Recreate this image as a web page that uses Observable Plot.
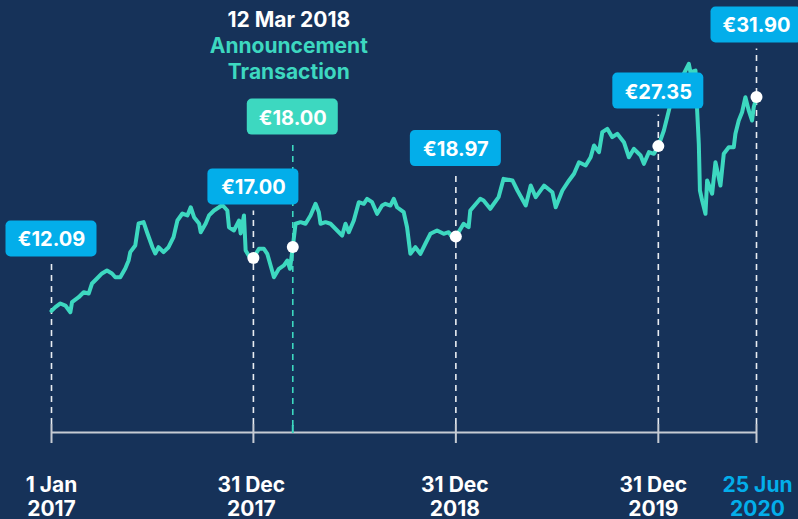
<!DOCTYPE html>
<html><head><meta charset="utf-8">
<script src="https://cdn.jsdelivr.net/npm/d3@7"></script>
<script src="https://cdn.jsdelivr.net/npm/@observablehq/plot@0.6"></script>
<style>
html,body{margin:0;padding:0;background:#163259;overflow:hidden;}
#chart{width:798px;height:519px;}
</style></head><body><div id="chart"></div>
<script>
// ---- data ----
const priceDates = [
"2017-01-01","2017-01-08","2017-01-17","2017-01-26","2017-02-04","2017-02-07","2017-02-19","2017-02-28","2017-03-09","2017-03-15",
"2017-03-24","2017-04-02","2017-04-11","2017-04-20","2017-04-26","2017-05-05","2017-05-14","2017-05-20","2017-05-23","2017-06-01",
"2017-06-07","2017-06-16","2017-06-23","2017-07-02","2017-07-07","2017-07-13","2017-07-22","2017-07-31","2017-08-09","2017-08-16",
"2017-08-25","2017-09-03","2017-09-09","2017-09-15","2017-09-24","2017-09-27","2017-10-06","2017-10-12","2017-10-21","2017-10-30",
"2017-11-05","2017-11-14","2017-11-17","2017-11-26","2017-12-05","2017-12-08","2017-12-14","2017-12-17","2017-12-26","2017-12-31",
"2018-01-10","2018-01-19","2018-01-25","2018-02-06","2018-02-15","2018-02-24","2018-03-02","2018-03-07","2018-03-12","2018-03-17",
"2018-03-26","2018-04-04","2018-04-13","2018-04-22","2018-04-28","2018-05-01","2018-05-10","2018-05-19","2018-05-31","2018-06-09",
"2018-06-15","2018-06-21","2018-06-30","2018-07-09","2018-07-18","2018-07-24","2018-08-02","2018-08-11","2018-08-20","2018-08-26",
"2018-09-04","2018-09-10","2018-09-16","2018-09-28","2018-10-04","2018-10-10","2018-10-19","2018-10-28","2018-11-06","2018-11-15",
"2018-11-27","2018-12-09","2018-12-18","2018-12-24","2018-12-31",
"2019-01-14","2019-01-23","2019-01-26","2019-02-13","2019-02-19","2019-03-03","2019-03-18","2019-03-27","2019-04-12","2019-04-21",
"2019-05-06","2019-05-15","2019-05-24","2019-06-08","2019-06-23","2019-06-29","2019-07-11","2019-07-23","2019-08-01","2019-08-10",
"2019-08-22","2019-08-31","2019-09-06","2019-09-15","2019-09-21","2019-09-30","2019-10-09","2019-10-18","2019-10-30","2019-11-08",
"2019-11-17","2019-11-29","2019-12-05","2019-12-14","2019-12-23","2019-12-31",
"2020-01-10","2020-01-16","2020-01-22","2020-01-31","2020-02-09","2020-02-18","2020-02-24","2020-02-27","2020-03-07","2020-03-10",
"2020-03-13","2020-03-15","2020-03-19","2020-03-25","2020-03-28","2020-04-06","2020-04-12","2020-04-21","2020-04-27","2020-05-06",
"2020-05-15","2020-05-18","2020-05-24","2020-05-30","2020-06-05","2020-06-11","2020-06-17","2020-06-20","2020-06-25"
];
const priceValues = [
12.09,12.44,12.78,12.59,11.97,12.90,13.36,13.82,13.70,14.63,
15.09,15.56,15.83,15.56,15.21,15.21,16.02,16.76,17.53,18.15,
20.19,20.31,19.26,17.99,17.41,17.99,17.53,17.99,18.92,20.46,
21.11,20.93,21.69,20.77,20.19,19.38,20.19,20.93,21.39,21.69,
21.90,21.39,19.84,19.54,20.46,19.26,20.93,17.69,16.92,17.00,
17.84,17.84,17.38,15.21,15.99,16.30,16.76,15.99,18.00,20.16,
20.31,20.16,20.93,22.01,21.23,20.16,20.31,20.16,19.54,19.07,
20.16,19.38,20.46,22.16,22.01,22.47,22.16,21.08,21.85,22.01,
21.85,22.47,21.69,21.23,19.84,17.38,17.99,17.38,18.31,19.23,
19.54,19.23,19.38,18.92,18.97,
20.16,19.84,21.39,22.47,22.31,21.55,22.62,24.32,24.17,23.24,
21.85,23.70,22.62,23.70,23.08,21.69,23.24,24.17,24.79,25.86,
25.56,26.32,27.41,26.79,28.64,28.95,28.18,28.49,27.71,26.32,
27.10,26.48,25.71,26.79,26.64,27.35,
28.80,30.03,31.27,32.50,33.43,34.35,34.97,34.19,34.35,30.65,
27.56,23.24,22.31,21.08,24.17,22.94,25.86,23.70,26.64,27.25,
27.25,28.49,29.72,30.49,31.88,30.65,29.72,30.95,31.90
];
const markerDates = ["2017-01-01","2017-12-31","2018-03-12","2018-12-31","2019-12-31","2020-06-25"];
const markerValues = [12.09, 17.00, 18.00, 18.97, 27.35, 31.90];
const markerLabels = ["€12.09","€17.00","€18.00","€18.97","€27.35","€31.90"];
const tickLabels = ["1 Jan\n2017","31 Dec\n2017","","31 Dec\n2018","31 Dec\n2019","25 Jun\n2020"];
const annotationDate = "2018-03-12";
const annotationTitle = "12 Mar 2018";
const annotationText = "Announcement\nTransaction";

// ---- layout / style ----
const W = 798, H = 519;
const xDomain = [new Date("2017-01-01"), new Date("2020-06-25")], xRange = [51, 756];
const yDomain = [0, 40], yRange = [441, 9];
const xs = d3.scaleUtc(xDomain, xRange), ys = d3.scaleLinear(yDomain, yRange);
const boxLift = [72, 71, 130, 88, 55, 72];
const boxW = 91, boxH = 36;
const axisPx = 432;
const BG = "#163259", TEAL = "#3dd8c0", CYAN = "#03aeea", WHITE = "#ffffff", AXIS = "#c6cbd3";
const hasDot = [false, true, true, true, true, true];
const isAnn = [false, false, true, false, false, false];
const labelColor = [WHITE, WHITE, WHITE, WHITE, WHITE, CYAN];
const labelDx = [0, -2, 0, -1, -5, 1];

const prices = priceDates.map((d, i) => ({date: new Date(d), price: priceValues[i]}));
const markers = markerDates.map((d, i) => {
  const date = new Date(d), py = ys(markerValues[i]), cy = py - boxLift[i], cx = xs(date);
  return {
    date, price: markerValues[i], label: markerLabels[i], tick: tickLabels[i], i,
    ann: isAnn[i], dot: hasDot[i],
    labelY: ys.invert(cy),
    bx1: xs.invert(cx - boxW / 2), bx2: xs.invert(cx + boxW / 2),
    by1: ys.invert(cy + boxH / 2), by2: ys.invert(cy - boxH / 2),
    ruleTop: ys.invert(cy + boxH / 2 + 6),
    ruleBottom: ys.invert(isAnn[i] ? 426 : 424),
    tickX: xs.invert(cx + labelDx[i])
  };
});
const normal = markers.filter(m => !m.ann), ann = markers.filter(m => m.ann);

const chart = Plot.plot({
  width: W, height: H, margin: 0,
  x: {type: "utc", domain: xDomain, range: xRange, axis: null},
  y: {domain: yDomain, range: yRange, axis: null},
  style: {background: BG, fontFamily: "Inter, 'Open Sans', sans-serif", overflow: "hidden"},
  marks: [
    // dashed guides
    Plot.ruleX(normal, {x: "date", y1: "ruleBottom", y2: "ruleTop", stroke: "#e9edf2", strokeWidth: 1.6, strokeDasharray: "6,5"}),
    Plot.ruleX(ann, {x: "date", y1: "ruleBottom", y2: "ruleTop", stroke: TEAL, strokeWidth: 1.6, strokeDasharray: "6,5"}),
    // axis
    Plot.ruleY([ys.invert(axisPx)], {x1: xDomain[0], x2: xDomain[1], stroke: AXIS, strokeWidth: 2}),
    Plot.ruleX(normal, {x: "date", y1: ys.invert(424), y2: ys.invert(443), stroke: AXIS, strokeWidth: 2}),
    Plot.ruleX(ann, {x: "date", y1: ys.invert(425), y2: ys.invert(433), stroke: TEAL, strokeWidth: 2}),
    // price line
    Plot.line(prices, {x: "date", y: "price", stroke: TEAL, strokeWidth: 4, strokeLinejoin: "round", strokeLinecap: "round"}),
    // dots
    Plot.dot(markers.filter(m => m.dot), {x: "date", y: "price", r: 6, fill: WHITE, stroke: null}),
    // value boxes
    Plot.rect(markers, {x1: "bx1", x2: "bx2", y1: "by1", y2: "by2", fill: m => m.ann ? TEAL : CYAN, rx: 5}),
    Plot.text(markers, {x: "date", y: "labelY", text: "label", fill: WHITE, fontSize: 20, fontWeight: 700, dy: 1}),
    // tick labels
    Plot.text(markers.filter(m => m.tick), {x: "tickX", y: ys.invert(495.5), text: "tick", fill: m => labelColor[m.i], fontSize: 21, fontWeight: 700, lineHeight: 1.19, lineAnchor: "middle"}),
    // annotation
    Plot.text([annotationTitle], {x: new Date(annotationDate), y: ys.invert(19.5), text: d => d, fill: WHITE, fontSize: 21, fontWeight: 700, dx: -4}),
    Plot.text([annotationText], {x: new Date(annotationDate), y: ys.invert(57.5), text: d => d, fill: TEAL, fontSize: 21, fontWeight: 700, lineHeight: 1.2, lineAnchor: "middle", dx: -4})
  ]
});
document.getElementById("chart").appendChild(chart);
</script>
</body></html>
